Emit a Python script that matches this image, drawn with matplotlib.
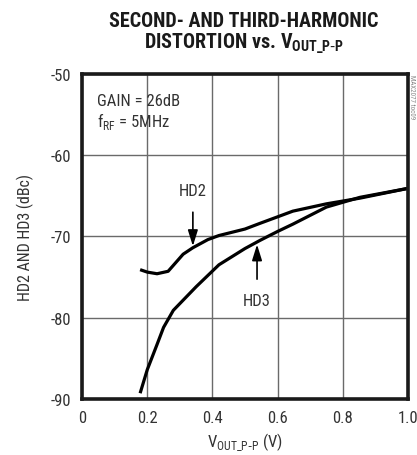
import matplotlib
matplotlib.use("Agg")
import matplotlib.pyplot as plt

FONT = ["Roboto Condensed", "DejaVu Sans"]
plt.rcParams["font.family"] = FONT
plt.rcParams["axes.unicode_minus"] = False

# HD2 / HD3 vs output swing, GAIN = 26dB, fRF = 5MHz
hd2_v = [0.178, 0.20, 0.23, 0.264, 0.31, 0.34, 0.386, 0.42, 0.50, 0.546, 0.60, 0.647, 0.75, 0.853, 1.0]
hd2_db = [-74.1, -74.4, -74.6, -74.3, -72.2, -71.4, -70.4, -69.9, -69.1, -68.4, -67.6, -66.9, -66.0, -65.3, -64.1]

hd3_v = [0.178, 0.20, 0.23, 0.25, 0.28, 0.35, 0.42, 0.50, 0.546, 0.60, 0.647, 0.75, 0.853, 1.0]
hd3_db = [-89.3, -86.4, -83.3, -81.2, -79.1, -76.2, -73.5, -71.5, -70.5, -69.4, -68.5, -66.4, -65.2, -64.1]

xticks = [0, 0.2, 0.4, 0.6, 0.8, 1.0]
xlabels = ["0", "0.2", "0.4", "0.6", "0.8", "1.0"]
yticks = [-90, -80, -70, -60, -50]

TXT = "#333333"
VOUT = r"V$_{\mathregular{OUT\_P\text{-}P}}$"

fig = plt.figure(figsize=(4.17, 4.56), dpi=100)
ax = fig.add_axes([0.197, 0.123, 0.781, 0.713])

ax.plot(hd2_v, hd2_db, color="black", lw=2.3, solid_capstyle="butt")
ax.plot(hd3_v, hd3_db, color="black", lw=2.3, solid_capstyle="butt")

ax.set_xlim(0, 1.0)
ax.set_ylim(-90, -50)
ax.set_xticks(xticks)
ax.set_xticklabels(xlabels)
ax.set_yticks(yticks)
ax.grid(True, color="#6a6a6a", lw=1.0)
ax.tick_params(length=0, pad=8, labelsize=12, labelcolor=TXT)
for sp in ax.spines.values():
    sp.set_linewidth(2.6)
    sp.set_color("#1a1a1a")

ax.set_xlabel(VOUT + " (V)", fontsize=12, color=TXT, labelpad=4)
ax.set_ylabel("HD2 AND HD3 (dBc)", fontsize=11.5, color=TXT, labelpad=12)

ax.text(0.045, -53.3, "GAIN = 26dB", fontsize=12, color=TXT, va="center")
ax.text(0.045, -55.8, r"f$_{\mathregular{RF}}$ = 5MHz", fontsize=12, color=TXT, va="center")

arrow = dict(arrowstyle="-|>,head_width=0.25,head_length=0.8",
             color="black", lw=1.2, shrinkA=8, shrinkB=0)
ax.annotate("HD2", xy=(0.34, -71.2), xytext=(0.34, -64.4), ha="center", va="center",
            fontsize=12, color=TXT, arrowprops=arrow)
ax.annotate("HD3", xy=(0.537, -71.0), xytext=(0.537, -77.9), ha="center", va="center",
            fontsize=12, color=TXT, arrowprops=arrow)

fig.text(0.988, 0.835, "MAX2077 toc09", rotation=270, fontsize=5, color="#888888",
         ha="center", va="top")

fig.text(0.585, 0.952, "SECOND- AND THIRD-HARMONIC", ha="center", va="center",
         fontsize=14.5, fontweight="bold", color="#1a1a1a")
fig.text(0.585, 0.905, "DISTORTION vs. " + VOUT, ha="center",
         va="center", fontsize=14.5, fontweight="bold", color="#1a1a1a")

fig.savefig("out.png", dpi=100)
